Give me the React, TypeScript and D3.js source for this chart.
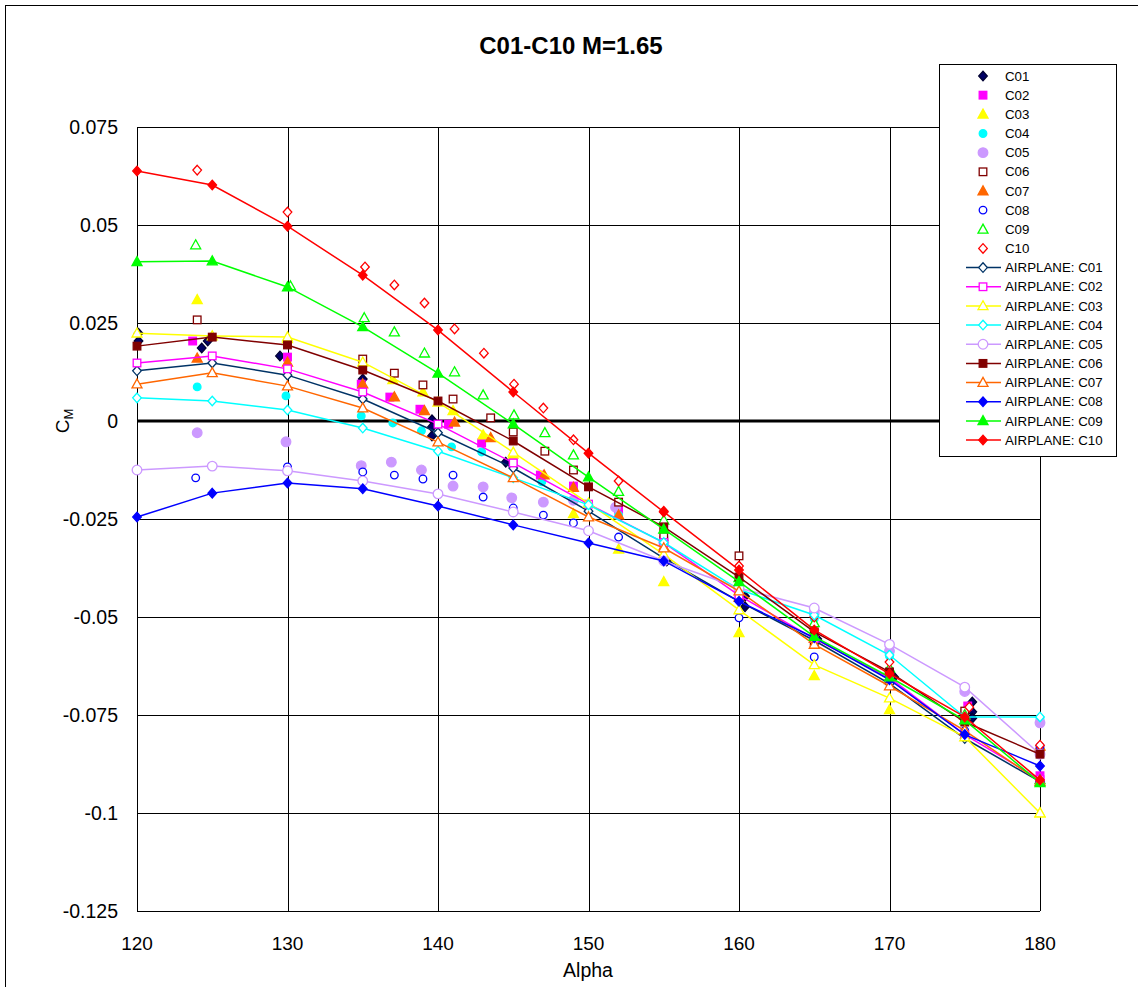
import React from "react";
import * as d3 from "d3";

const W = 1138;
const H = 987;

const TITLE = "C01-C10 M=1.65";
const xTicks = [120, 130, 140, 150, 160, 170, 180];
const yTicks = [0.075, 0.05, 0.025, 0, -0.025, -0.05, -0.075, -0.1, -0.125];
const yTickLabels = ["0.075", "0.05", "0.025", "0", "-0.025", "-0.05", "-0.075", "-0.1", "-0.125"];

// Airplane (line) series share these alpha values
const apAlpha = [120, 125, 130, 135, 140, 145, 150, 155, 160, 165, 170, 175, 180];
const apC01 = [0.0128, 0.0148, 0.0117, 0.0056, -0.003, -0.012, -0.023, -0.035, -0.046, -0.056, -0.067, -0.081, -0.092];
const apC02 = [0.0148, 0.0166, 0.0133, 0.0074, -0.0008, -0.0107, -0.0212, -0.031, -0.0445, -0.0555, -0.0655, -0.08, -0.0915];
const apC03 = [0.0224, 0.0217, 0.0214, 0.015, 0.0048, -0.008, -0.021, -0.034, -0.0482, -0.0622, -0.0707, -0.0806, -0.1];
const apC04 = [0.0059, 0.0051, 0.0028, -0.0018, -0.0077, -0.0145, -0.0214, -0.031, -0.043, -0.0495, -0.0597, -0.0755, -0.0755];
const apC05 = [-0.0125, -0.0115, -0.0127, -0.0153, -0.0186, -0.0232, -0.028, -0.0357, -0.0426, -0.0477, -0.057, -0.0679, -0.085];
const apC06 = [0.0191, 0.0214, 0.0194, 0.013, 0.0051, -0.0051, -0.0168, -0.027, -0.0398, -0.0538, -0.064, -0.0768, -0.085];
const apC07 = [0.0094, 0.0123, 0.0089, 0.0033, -0.0054, -0.0145, -0.0245, -0.0324, -0.0434, -0.057, -0.0676, -0.079, -0.092];
const apC08 = [-0.0245, -0.0184, -0.0158, -0.0173, -0.0217, -0.0265, -0.0311, -0.0357, -0.046, -0.0553, -0.066, -0.08, -0.088];
const apC09 = [0.0406, 0.0408, 0.0342, 0.024, 0.0122, -0.0008, -0.0143, -0.0276, -0.041, -0.055, -0.0653, -0.0763, -0.0923];
const apC10 = [0.0638, 0.0602, 0.0497, 0.0372, 0.0232, 0.0074, -0.0082, -0.0232, -0.038, -0.0533, -0.0645, -0.0755, -0.0916];

// Scatter series: [alpha, Cm]
const c01 = [[120.1, 0.0224], [120.1, 0.0204], [124.3, 0.0186], [124.7, 0.0204], [129.5, 0.0166], [135, 0.0107], [139.6, 0.0003], [139.6, -0.0015], [139.6, -0.0038], [144.5, -0.0105], [155.2, -0.0357], [160.4, -0.0447], [160.4, -0.0474], [165.2, -0.0556], [170.3, -0.0653], [175.5, -0.0717], [175.5, -0.0742], [175.5, -0.0758]];
const c02 = [[123.7, 0.0204], [130, 0.0163], [134.9, 0.0094], [136.8, 0.0061], [138.8, 0.003], [140.7, -0.0008], [142.9, -0.0056], [145, -0.0102], [146.8, -0.0138], [149, -0.0166], [152, -0.0225], [155, -0.0305], [160, -0.0449], [165, -0.0555], [170, -0.0645], [175.2, -0.0727], [180, -0.0905]];
const c03 = [[124, 0.0309], [130, 0.021], [137, 0.0105], [139, 0.0074], [141, 0.0026], [143, -0.0036], [145, -0.0085], [149, -0.0237], [152, -0.0327], [155, -0.041], [160, -0.054], [165, -0.065], [170, -0.0737], [180, -0.1]];
const c04 = [[124, 0.0087], [129.9, 0.0064], [134.9, 0.0013], [137, -0.0005], [138.9, -0.0025], [140.9, -0.0066], [142.9, -0.0079], [146.9, -0.0155], [152, -0.024], [155, -0.0305], [160, -0.044], [165, -0.0505], [170, -0.06], [175, -0.074], [180, -0.076]];
const c05 = [[124, -0.003], [129.9, -0.0053], [134.9, -0.0114], [136.9, -0.0105], [138.9, -0.0125], [141, -0.0166], [143, -0.0168], [144.9, -0.0196], [147, -0.0207], [149, -0.0202], [151.8, -0.022], [155, -0.031], [160, -0.043], [165, -0.049], [170, -0.0587], [175, -0.069], [180, -0.077]];
const c06 = [[124, 0.0258], [135, 0.0158], [137.1, 0.0122], [139, 0.0092], [141, 0.0056], [143.5, 0.0008], [145, -0.0028], [147.1, -0.0077], [149, -0.0125], [152, -0.0207], [155, -0.0295], [160, -0.0344], [165, -0.0569], [170, -0.0645], [175, -0.074], [180, -0.0845]];
const c07 = [[124, 0.016], [130, 0.015], [135, 0.0094], [137.1, 0.0061], [139.1, 0.0026], [141.1, -0.0003], [143.5, -0.0043], [147.05, -0.0138], [149, -0.017], [152, -0.024], [155, -0.032], [160, -0.045], [165, -0.0555], [170, -0.066], [175, -0.075], [180, -0.083]];
const c08 = [[123.9, -0.0145], [130, -0.0117], [135, -0.013], [137.1, -0.0138], [139, -0.0148], [141, -0.0138], [143, -0.0194], [145, -0.0222], [147, -0.024], [149, -0.026], [152, -0.0296], [155, -0.035], [160, -0.0502], [165, -0.0602], [170, -0.066], [175, -0.079], [180, -0.083]];
const c09 = [[123.9, 0.0449], [130.2, 0.0344], [135.1, 0.0263], [137.1, 0.0227], [139.1, 0.0173], [141.1, 0.0125], [143, 0.0066], [145.05, 0.0015], [147.1, -0.003], [149, -0.0087], [152, -0.018], [155, -0.0253], [160, -0.04], [165, -0.0515], [170, -0.063], [175, -0.075], [180, -0.0915]];
const c10 = [[124, 0.064], [130, 0.0533], [135.15, 0.0393], [137.1, 0.0347], [139.1, 0.0301], [141.1, 0.0235], [143.05, 0.0173], [145.05, 0.0094], [147, 0.0033], [149, -0.0048], [152, -0.0153], [155, -0.023], [160, -0.037], [165, -0.05], [170, -0.0615], [175.3, -0.073], [180, -0.0827]];

type Shape = "diamond" | "square" | "triangle" | "circle" | "bigcircle";
interface Style { name: string; shape: Shape; color: string; fill: string; }

const scatterDefs: { data: number[][]; st: Style }[] = [
  { data: c01, st: { name: "C01", shape: "diamond", color: "#000033", fill: "#000066" } },
  { data: c02, st: { name: "C02", shape: "square", color: "#FF00FF", fill: "#FF00FF" } },
  { data: c03, st: { name: "C03", shape: "triangle", color: "#FFFF00", fill: "#FFFF00" } },
  { data: c04, st: { name: "C04", shape: "circle", color: "#00FFFF", fill: "#00FFFF" } },
  { data: c05, st: { name: "C05", shape: "bigcircle", color: "#CC99FF", fill: "#CC99FF" } },
  { data: c06, st: { name: "C06", shape: "square", color: "#800000", fill: "#FFFFFF" } },
  { data: c07, st: { name: "C07", shape: "triangle", color: "#FF6600", fill: "#FF6600" } },
  { data: c08, st: { name: "C08", shape: "circle", color: "#0000FF", fill: "#FFFFFF" } },
  { data: c09, st: { name: "C09", shape: "triangle", color: "#00FF00", fill: "#FFFFFF" } },
  { data: c10, st: { name: "C10", shape: "diamond", color: "#FF0000", fill: "#FFFFFF" } },
];

const lineDefs: { data: number[]; st: Style }[] = [
  { data: apC01, st: { name: "AIRPLANE: C01", shape: "diamond", color: "#003366", fill: "#FFFFFF" } },
  { data: apC02, st: { name: "AIRPLANE: C02", shape: "square", color: "#FF00FF", fill: "#FFFFFF" } },
  { data: apC03, st: { name: "AIRPLANE: C03", shape: "triangle", color: "#FFFF00", fill: "#FFFFFF" } },
  { data: apC04, st: { name: "AIRPLANE: C04", shape: "diamond", color: "#00FFFF", fill: "#FFFFFF" } },
  { data: apC05, st: { name: "AIRPLANE: C05", shape: "bigcircle", color: "#CC99FF", fill: "#FFFFFF" } },
  { data: apC06, st: { name: "AIRPLANE: C06", shape: "square", color: "#800000", fill: "#800000" } },
  { data: apC07, st: { name: "AIRPLANE: C07", shape: "triangle", color: "#FF6600", fill: "#FFFFFF" } },
  { data: apC08, st: { name: "AIRPLANE: C08", shape: "diamond", color: "#0000FF", fill: "#0000FF" } },
  { data: apC09, st: { name: "AIRPLANE: C09", shape: "triangle", color: "#00FF00", fill: "#00FF00" } },
  { data: apC10, st: { name: "AIRPLANE: C10", shape: "diamond", color: "#FF0000", fill: "#FF0000" } },
];

const FONT = "Arial, 'Liberation Sans', sans-serif";

function Marker({ x, y, st }: { x: number; y: number; st: Style }) {
  const sw = 1.3;
  switch (st.shape) {
    case "diamond":
      return <path d={`M${x},${y - 4.8}L${x + 4.3},${y}L${x},${y + 4.8}L${x - 4.3},${y}Z`} fill={st.fill} stroke={st.color} strokeWidth={sw} />;
    case "square":
      return <rect x={x - 3.8} y={y - 3.8} width={7.6} height={7.6} fill={st.fill} stroke={st.color} strokeWidth={sw} />;
    case "triangle":
      return <path d={`M${x},${y - 5.2}L${x + 5},${y + 3.8}L${x - 5},${y + 3.8}Z`} fill={st.fill} stroke={st.color} strokeWidth={sw} />;
    case "circle":
      return <circle cx={x} cy={y} r={3.8} fill={st.fill} stroke={st.color} strokeWidth={sw} />;
    case "bigcircle":
      return <circle cx={x} cy={y} r={4.8} fill={st.fill} stroke={st.color} strokeWidth={sw} />;
  }
  return null;
}

export default function App() {
  const plot = { left: 137, right: 1040, top: 127, bottom: 911 };
  const x = d3.scaleLinear().domain([120, 180]).range([plot.left, plot.right]);
  const y = d3.scaleLinear().domain([-0.125, 0.075]).range([plot.bottom, plot.top]);
  const line = d3.line<number>().x((_, i) => x(apAlpha[i])).y((d) => y(d));

  const legX = 939, legY = 64, legW = 177, legH = 392;
  const legRow0 = 76, legStep = 19.16;
  const allLegend: { st: Style; isLine: boolean }[] = [
    ...scatterDefs.map((s) => ({ st: s.st, isLine: false })),
    ...lineDefs.map((s) => ({ st: s.st, isLine: true })),
  ];

  return (
    <div style={{ position: "absolute", left: 0, top: 0 }}>
      <svg width={W} height={H} style={{ display: "block", background: "#fff" }} fontFamily={FONT}>
        <rect x={0} y={0} width={W} height={H} fill="#fff" />
        <rect x={5.5} y={5.5} width={W + 20} height={H + 20} fill="none" stroke="#000" strokeWidth={1} />

        {/* gridlines */}
        {yTicks.map((t) => (
          <line key={"gy" + t} x1={plot.left} x2={plot.right} y1={Math.round(y(t)) + 0.5} y2={Math.round(y(t)) + 0.5} stroke="#000" strokeWidth={1} />
        ))}
        {xTicks.map((t) => (
          <line key={"gx" + t} x1={Math.round(x(t)) + 0.5} x2={Math.round(x(t)) + 0.5} y1={plot.top} y2={plot.bottom} stroke="#000" strokeWidth={1} />
        ))}
        <line x1={plot.left} x2={plot.right} y1={y(0)} y2={y(0)} stroke="#000" strokeWidth={3} />

        {/* scatter series */}
        {scatterDefs.map((s) => (
          <g key={s.st.name}>
            {s.data.map((d, i) => (
              <Marker key={i} x={x(d[0])} y={y(d[1])} st={s.st} />
            ))}
          </g>
        ))}

        {/* airplane lines */}
        {lineDefs.map((s) => (
          <g key={s.st.name}>
            <path d={line(s.data) || ""} fill="none" stroke={s.st.color} strokeWidth={1.5} />
            {s.data.map((d, i) => (
              <Marker key={i} x={x(apAlpha[i])} y={y(d)} st={s.st} />
            ))}
          </g>
        ))}

        {/* axis labels */}
        {yTicks.map((t, i) => (
          <text key={"ty" + t} x={118} y={y(t)} dy="0.35em" textAnchor="end" fontSize={19.5} fill="#000">
            {yTickLabels[i]}
          </text>
        ))}
        {xTicks.map((t) => (
          <text key={"tx" + t} x={x(t)} y={950} textAnchor="middle" fontSize={19} fill="#000">
            {t}
          </text>
        ))}
        <text x={588} y={977} textAnchor="middle" fontSize={19.5} fill="#000">Alpha</text>
        <text transform={`translate(69,${y(0)}) rotate(-90)`} textAnchor="middle" fontSize={19} fill="#000">
          C<tspan fontSize={13} dy={4}>M</tspan>
        </text>
        <text x={571} y={54} textAnchor="middle" fontSize={24} fontWeight="bold" fill="#000">
          {TITLE}
        </text>

        {/* legend */}
        <rect x={legX + 0.5} y={legY + 0.5} width={legW} height={legH} fill="#fff" stroke="#000" strokeWidth={1} />
        {allLegend.map((e, i) => {
          const ly = legRow0 + i * legStep;
          return (
            <g key={"lg" + i}>
              {e.isLine && <line x1={966} x2={1001} y1={ly} y2={ly} stroke={e.st.color} strokeWidth={1.5} />}
              <Marker x={983} y={ly} st={e.st} />
              <text x={1005} y={ly} dy="0.35em" fontSize={13.3} fill="#000">{e.st.name}</text>
            </g>
          );
        })}
      </svg>
    </div>
  );
}
